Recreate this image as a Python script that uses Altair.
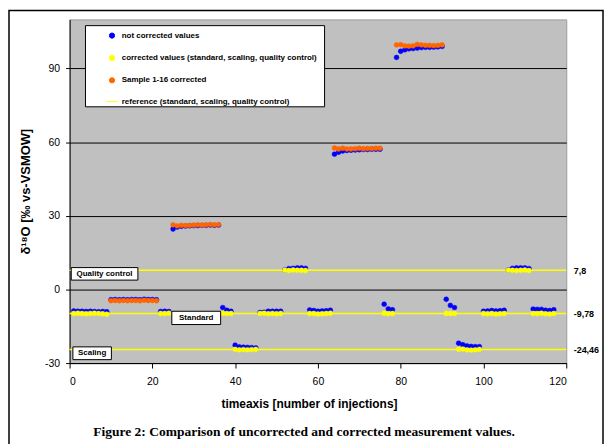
import altair as alt
import pandas as pd

FONT = "Liberation Sans"

S_NC = "not corrected values"
S_C = "corrected values (standard, scaling, quality control)"
S_S = "Sample 1-16 corrected"
S_R = "reference (standard, scaling, quality control)"
series_names = [S_NC, S_C, S_S, S_R]
series_colors = ["#0000FF", "#FFFF00", "#FF6600", "#FFFF00"]
series_shapes = ["circle", "circle", "circle", "M-2,0H2"]

# standards
std_x = [1, 2, 3, 4, 5, 6, 7, 8, 9,
         22, 23, 24,
         37, 38, 39,
         46, 47, 48, 49, 50, 51,
         58, 59, 60, 61, 62, 63,
         76, 77, 78,
         91, 92, 93,
         100, 101, 102, 103, 104, 105,
         112, 113, 114, 115, 116, 117]
std_raw = [-8.8, -8.9, -8.9, -9.0, -8.9, -9.0, -9.1, -9.0, -9.1,
           -9.0, -8.9, -9.0,
           -7.4, -8.5, -8.9,
           -9.4, -9.3, -8.9, -8.9, -8.9, -8.9,
           -8.4, -8.6, -8.9, -8.8, -8.7, -8.5,
           -6.0, -7.9, -8.3,
           -4.0, -6.5, -7.4,
           -8.9, -8.8, -8.6, -8.8, -8.7, -8.5,
           -8.0, -8.1, -8.1, -8.5, -8.6, -8.3]
std_cor = [-9.8, -9.7, -9.8, -9.9, -9.8, -9.7, -9.8, -9.9, -10.1,
           -9.8, -9.8, -9.7,
           -9.7, -9.8, -9.8,
           -9.8, -9.7, -9.9, -9.8, -9.9, -9.8,
           -9.8, -9.8, -10.0, -9.9, -9.8, -9.7,
           -9.7, -9.9, -9.8,
           -9.8, -9.8, -9.8,
           -9.8, -9.9, -9.8, -10.0, -9.9, -9.8,
           -9.8, -9.8, -9.7, -9.9, -10.0, -9.8]

# scaling
scl_x = [40, 41, 42, 43, 44, 45, 94, 95, 96, 97, 98, 99]
scl_raw = [-22.7, -23.4, -23.5, -23.6, -23.7, -23.8,
           -21.9, -22.5, -23.0, -23.2, -23.3, -23.3]
scl_cor = [-24.4, -24.6, -24.5, -24.6, -24.5, -24.4,
           -24.4, -24.3, -24.6, -24.7, -24.6, -24.4]

# quality control
qc_x = [52, 53, 54, 55, 56, 57, 106, 107, 108, 109, 110, 111]
qc_raw = [7.9, 8.5, 8.6, 8.8, 8.8, 8.6, 7.9, 8.6, 8.8, 8.8, 8.8, 8.5]
qc_cor = [7.8, 7.7, 7.9, 7.8, 7.8, 7.7, 7.8, 7.8, 7.7, 7.8, 7.9, 7.7]

# samples
smp_x = list(range(10, 22)) + list(range(25, 37)) + list(range(64, 76)) + list(range(79, 91))
smp_raw = [-4.2, -4.1, -4.2, -4.1, -4.2, -4.1, -4.1, -4.2, -4.0, -4.1, -4.1, -4.2,
           24.6, 25.4, 25.7, 25.8, 25.9, 26.0, 26.0, 26.1, 26.1, 26.2, 26.1, 26.2,
           55.1, 55.9, 56.4, 56.6, 56.7, 56.8, 56.9, 57.0, 57.0, 57.1, 57.1, 57.1,
           94.5, 97.0, 97.6, 98.0, 98.1, 98.3, 98.5, 98.6, 98.6, 98.7, 98.8, 99.0]
smp_cor = [-4.6, -4.5, -4.6, -4.5, -4.6, -4.5, -4.5, -4.6, -4.4, -4.5, -4.5, -4.6,
           26.3, 25.9, 26.1, 26.0, 26.1, 26.2, 26.3, 26.2, 26.3, 26.4, 26.3, 26.4,
           57.6, 57.2, 57.5, 57.2, 57.2, 57.3, 57.5, 57.3, 57.4, 57.4, 57.5, 57.5,
           99.6, 99.7, 99.2, 99.1, 99.2, 99.8, 99.6, 99.4, 99.4, 99.3, 99.4, 99.6]

ref_vals = [7.8, -9.78, -24.46]
ref_x0 = [0, 0, 0]
ref_x1 = [120, 120, 120]

ann_labels = ["Quality control", "Standard", "Scaling"]
ann_x1 = [0.4, 24.7, 0.8]
ann_x2 = [16.5, 36.5, 10.1]
ann_y1 = [8.9, -8.9, -23.4]
ann_y2 = [3.8, -14.3, -28.6]

caption = "Figure 2: Comparison of uncorrected and corrected measurement values."

# ---- tables ----
rows = []
for xv, yv in zip(std_x + scl_x + qc_x + smp_x, std_raw + scl_raw + qc_raw + smp_raw):
    rows.append({"x": xv, "y": yv, "series": S_NC})
for xv, yv in zip(std_x + scl_x + qc_x, std_cor + scl_cor + qc_cor):
    rows.append({"x": xv, "y": yv, "series": S_C})
for xv, yv in zip(smp_x, smp_cor):
    rows.append({"x": xv, "y": yv, "series": S_S})
df_pts = pd.DataFrame(rows)

df_ref = pd.DataFrame({"ref": ref_vals, "x0": ref_x0, "x1": ref_x1})
df_ann = pd.DataFrame({"label": ann_labels, "x1": ann_x1, "x2": ann_x2,
                       "y1": ann_y1, "y2": ann_y2})
df_ann["xc"] = (df_ann["x1"] + df_ann["x2"]) / 2
df_ann["yc"] = (df_ann["y1"] + df_ann["y2"]) / 2
one = pd.DataFrame({"k": [0]})

xs = alt.Scale(domain=[0, 120], nice=False, zero=False)
ys = alt.Scale(domain=[-30, 110], nice=False, zero=False)

xaxis = alt.Axis(values=[0, 20, 40, 60, 80, 100, 120], grid=False,
                 title="timeaxis [number of injections]",
                 domainColor="black", tickColor="black", tickSize=5,
                 labelFont=FONT, labelFontSize=10.5, labelColor="black", labelPadding=9,
                 titleFont=FONT, titleFontSize=12, titleFontWeight="bold",
                 titleColor="black", titlePadding=11, titleX=241)

yaxis = alt.Axis(values=[-30, 0, 30, 60, 90], grid=True, gridColor="black",
                 gridOpacity=1, gridWidth=1,
                 domainColor="black", tickColor="black", tickSize=4,
                 labelExpr="toString(datum.value)",
                 labelFont=FONT, labelFontSize=10.5, labelColor="black", labelPadding=6,
                 title="δ¹⁸O [‰ vs-VSMOW]", titleFont=FONT, titleFontSize=13,
                 titleFontWeight="bold", titleColor="black", titlePadding=12)

yaxis_r = alt.Axis(orient="right", values=ref_vals, grid=False, ticks=False,
                   tickSize=0, domain=False, title=None,
                   labelExpr="replace(toString(datum.value), '.', ',')",
                   labelFont=FONT, labelFontSize=9, labelFontWeight="bold",
                   labelColor="black", labelPadding=7)

legend = alt.Legend(orient="none", legendX=38.7, legendY=12.3, title=None,
                    padding=0, rowPadding=12.5, labelOffset=5.8,
                    symbolSize=27, symbolStrokeWidth=1,
                    labelFont=FONT, labelFontSize=8, labelFontWeight="bold",
                    labelColor="black", labelLimit=400)

frame = alt.Chart(one).mark_rect(fillOpacity=0, stroke="black", strokeWidth=1.5).encode(
    x=alt.value(-61), x2=alt.value(537), y=alt.value(-9), y2=alt.value(440))

legend_box = alt.Chart(one).mark_rect(fill="white", stroke="black", strokeWidth=1).encode(
    x=alt.value(16), x2=alt.value(256.7), y=alt.value(6.3), y2=alt.value(88))

refs = alt.Chart(df_ref).mark_rule(color="#FFFF00", strokeWidth=1.5).encode(
    x=alt.X("x0:Q", scale=xs, axis=xaxis),
    x2="x1:Q",
    y=alt.Y("ref:Q", scale=ys, axis=yaxis_r))

pts = alt.Chart(df_pts).mark_point(filled=True, size=24, strokeWidth=0.5, opacity=1).encode(
    x=alt.X("x:Q", scale=xs, axis=xaxis),
    y=alt.Y("y:Q", scale=ys, axis=yaxis),
    color=alt.Color("series:N", scale=alt.Scale(domain=series_names, range=series_colors), legend=legend),
    stroke=alt.Stroke("series:N", scale=alt.Scale(domain=series_names, range=series_colors), legend=legend),
    shape=alt.Shape("series:N", scale=alt.Scale(domain=series_names, range=series_shapes), legend=legend),
)

ann_box = alt.Chart(df_ann).mark_rect(fill="white", stroke="black", strokeWidth=1).encode(
    x=alt.X("x1:Q", scale=xs, axis=xaxis), x2="x2:Q",
    y=alt.Y("y1:Q", scale=ys, axis=None), y2="y2:Q")

ann_txt = alt.Chart(df_ann).mark_text(font=FONT, fontSize=8, fontWeight="bold",
                                      color="black", align="center", baseline="middle").encode(
    x=alt.X("xc:Q", scale=xs, axis=xaxis),
    y=alt.Y("yc:Q", scale=ys, axis=None),
    text="label:N")

cap = alt.Chart(one).mark_text(text=caption, font="Liberation Serif", fontSize=13.6,
                               fontWeight="bold", color="black", align="center",
                               baseline="middle").encode(
    x=alt.value(236), y=alt.value(415))

chart = alt.layer(frame, legend_box, refs, pts, ann_box, ann_txt, cap).resolve_axis(
    y="independent"
).properties(
    width=500, height=346,
    autosize=alt.AutoSizeParams(type="none"),
    padding={"left": 62, "top": 10, "right": 38, "bottom": 80},
    background="white",
).configure_view(fill="#C0C0C0", stroke="#999999", strokeWidth=1)

chart.save("out.html", embed_options={"renderer": "svg", "actions": False})
